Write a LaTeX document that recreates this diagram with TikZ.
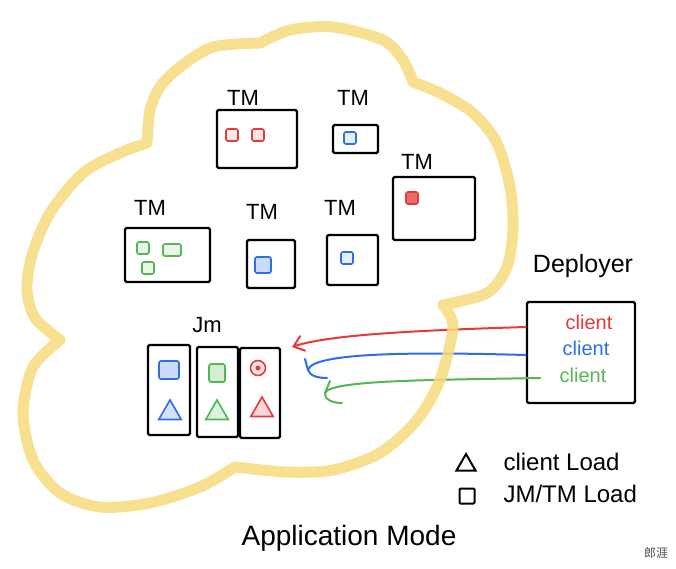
\documentclass[tikz,border=0pt]{standalone}
\usepackage{fontspec}
\setmainfont{Liberation Sans}
\newfontfamily\cjk{Noto Sans CJK SC}
\usetikzlibrary{arrows.meta,shapes.geometric}
\definecolor{cloudyellow}{RGB}{247,218,126}
\definecolor{inkred}{RGB}{228,58,58}
\definecolor{inkblue}{RGB}{45,110,230}
\definecolor{inkgreen}{RGB}{82,182,82}
\begin{document}
\begin{tikzpicture}[x=1pt, y=-1pt, every node/.style={font=\fontsize{22}{26}\selectfont},
  tmbox/.style={draw, line width=2.2pt, rounded corners=1.5pt, inner sep=0pt},
  slot/.style={draw, line width=1.6pt, rounded corners=2pt, minimum size=12pt, inner sep=0pt},
  bigslot/.style={slot, minimum width=20pt, minimum height=18pt},
  tri/.style={draw, line width=1.6pt, regular polygon, regular polygon sides=3, minimum size=26pt, inner sep=0pt},
  wire/.style={line width=2pt, line cap=round, line join=round}]
  \useasboundingbox (0,0) rectangle (676,568);

  % task managers
  \node[tmbox, minimum width=80pt, minimum height=58pt] (tm1) at (257,139) {};
  \node[tmbox, minimum width=45pt, minimum height=28pt] (tm2) at (355.5,139) {};
  \node[tmbox, minimum width=82pt, minimum height=63pt] (tm3) at (434,208.5) {};
  \node[tmbox, minimum width=85pt, minimum height=54pt] (tm4) at (167.5,255) {};
  \node[tmbox, minimum width=48pt, minimum height=48pt] (tm5) at (271,264) {};
  \node[tmbox, minimum width=51pt, minimum height=50pt] (tm6) at (352.5,260) {};
  \node (tm1l) at (243,98) {TM};
  \node (tm2l) at (353,98) {TM};
  \node (tm3l) at (417,162) {TM};
  \node (tm4l) at (150,208) {TM};
  \node (tm5l) at (262,212) {TM};
  \node (tm6l) at (340,208) {TM};

  % slots in the task managers
  \node[slot, inkred, fill=inkred!12] (r1) at (232,135) {};
  \node[slot, inkred, fill=inkred!12] (r2) at (258,135) {};
  \node[slot, inkblue, fill=inkblue!12] (b1) at (350,138) {};
  \node[slot, inkred, fill=inkred!75] (r3) at (412,198) {};
  \node[slot, inkgreen, fill=inkgreen!12] (g1) at (143,248) {};
  \node[slot, inkgreen, fill=inkgreen!12, minimum width=18pt] (g2) at (172,250) {};
  \node[slot, inkgreen, fill=inkgreen!12] (g3) at (148,268) {};
  \node[slot, inkblue, fill=inkblue!25, minimum size=16pt] (b2) at (263,265) {};
  \node[slot, inkblue, fill=inkblue!12] (b3) at (347,258) {};

  % job managers
  \node (jml) at (207,325) {Jm};
  \node[tmbox, minimum width=42pt, minimum height=90pt] (jm1) at (169,390) {};
  \node[tmbox, minimum width=41pt, minimum height=90pt] (jm2) at (217.5,392) {};
  \node[tmbox, minimum width=40pt, minimum height=90pt] (jm3) at (260,393) {};
  \node[bigslot, inkblue, fill=inkblue!25] (jb1) at (169,370) {};
  \node[bigslot, inkgreen, fill=inkgreen!25, minimum width=16pt] (jg1) at (217,373) {};
  \node[slot, circle, inkred, fill=inkred!12, minimum size=15pt] (jr1) at (258,368) {};
  \fill[inkred] (jr1) circle (2.5pt);
  \node[tri, inkblue, fill=inkblue!20] (jb2) at (170,413) {};
  \node[tri, inkgreen, fill=inkgreen!20] (jg2) at (217,413) {};
  \node[tri, inkred, fill=inkred!20] (jr2) at (262,410) {};

  % deployer and clients
  \node[font=\fontsize{25}{30}\selectfont] (depl) at (583,266) {Deployer};
  \node[tmbox, minimum width=108pt, minimum height=101pt] (dep) at (581,352.5) {};
  \node[inkred, font=\fontsize{20}{24}\selectfont] (c1) at (589,322) {client};
  \node[inkblue, font=\fontsize{20}{24}\selectfont] (c2) at (586,348) {client};
  \node[inkgreen, font=\fontsize{20}{24}\selectfont] (c3) at (583,375) {client};

  \coordinate (r0) at (dep.west |- 0,327);
  \coordinate (rt) at (292,347);
  \coordinate (b0) at (dep.west |- 0,355);
  \coordinate (bt) at (308,370);
  \coordinate (g0) at (540,378);
  \coordinate (gt) at (325,393);
  \draw[wire, inkred, -{Straight Barb[length=10pt, width=16pt]}] (r0) .. controls (430,330) and (330,334) .. (rt);
  \draw[wire, inkblue] (b0) .. controls (420,352) and (312,352) .. (bt)
    .. controls (310,376) and (318,378) .. (327,378);
  \draw[wire, inkblue] (305,359) -- (bt);
  \draw[wire, inkgreen] (g0) .. controls (430,380) and (330,380) .. (gt)
    .. controls (324,399) and (332,403) .. (342,403);
  \draw[wire, inkgreen] (330,381) -- (gt);

  % cloud
  \draw[cloudyellow, line width=11pt, line join=round, opacity=.85]
    plot[smooth] coordinates {(60,340) (35,318) (27,290) (32,255) (50,213) (83,173) (120,153) (147,143)}
    -- plot[smooth] coordinates {(147,143) (150,110) (160,87) (180,67) (213,47) (260,43)}
    -- plot[smooth] coordinates {(260,43) (290,30) (333,27) (383,40) (403,60) (413,82)}
    -- plot[smooth] coordinates {(413,82) (440,93) (473,113) (497,143) (510,187) (513,227) (507,267) (487,293) (443,305)}
    -- plot[smooth] coordinates {(443,305) (453,327) (440,380) (417,420) (380,453) (333,470) (287,472) (235,467)}
    -- plot[smooth] coordinates {(235,467) (200,487) (150,503) (100,507) (60,493) (33,460) (23,413) (33,367) (60,340)}
    -- cycle;

  % legend
  \node[tri, minimum size=22pt, line width=2pt] (lt) at (466,465) {};
  \node[draw, line width=2pt, rounded corners=1pt, minimum size=15pt, inner sep=0pt] (ls) at (467,496) {};
  \node[anchor=west, font=\fontsize{24}{28}\selectfont] (ltt) at (500,462) {client Load};
  \node[anchor=west, font=\fontsize{24}{28}\selectfont] (lst) at (500,494) {JM/TM Load};

  \node[font=\fontsize{28}{32}\selectfont] (title) at (349,538) {Application Mode};
  \node[font=\cjk\fontsize{12}{14}\selectfont, black!70] (mark) at (656,553) {郎涯};
\end{tikzpicture}
\end{document}
